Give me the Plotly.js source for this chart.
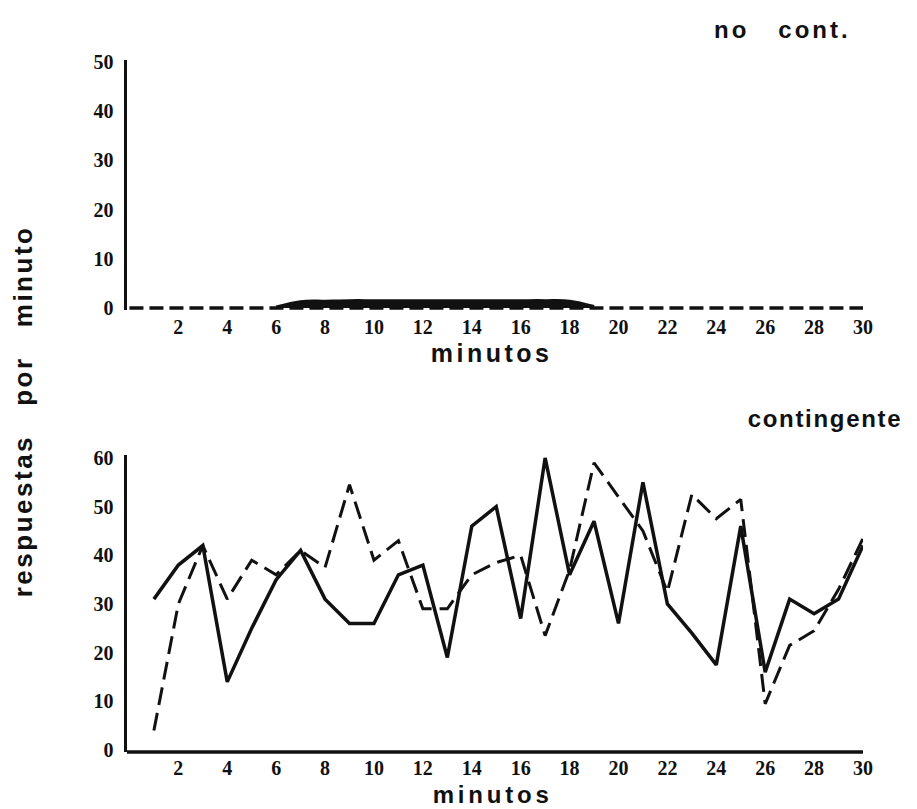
<!DOCTYPE html>
<html>
<head>
<meta charset="utf-8">
<script src="https://cdn.plot.ly/plotly-3.0.1.min.js"></script>
<style>
html,body{margin:0;padding:0;background:#fff;}
#chart{width:917px;height:809px;}
.annotation[data-index="0"] .annotation-text{letter-spacing:3px;}
.annotation[data-index="1"] .annotation-text{letter-spacing:1.7px;}
.annotation[data-index="2"] .annotation-text{letter-spacing:3.5px;}
.annotation[data-index="3"] .annotation-text{letter-spacing:3.8px;}
.annotation[data-index="4"] .annotation-text{letter-spacing:2.5px;}
</style>
</head>
<body>
<div id="chart"></div>
<script>
// ---- data ----
const minutes = [1,2,3,4,5,6,7,8,9,10,11,12,13,14,15,16,17,18,19,20,21,22,23,24,25,26,27,28,29,30];
const tickVals = [2,4,6,8,10,12,14,16,18,20,22,24,26,28,30];
const tickTextX = ['2','4','6','8','10','12','14','16','18','20','22','24','26','28','30'];
const topYTicks = [0,10,20,30,40,50];
const bottomYTicks = [0,10,20,30,40,50,60];

// "no cont." panel
const noContMinutes = [0,1,2,3,4,5,6,7,8,9,10,11,12,13,14,15,16,17,18,19,20,21,22,23,24,25,26,27,28,29,30];
const noContDashed  = [0,0,0,0,0,0,0,0,0,0,0,0,0,0,0,0,0,0,0,0,0,0,0,0,0,0,0,0,0,0,0];
const noContSolidMinutes = [6,7,8,9,10,11,12,13,14,15,16,17,18,19];
const noContSolid  = [0.2,1.3,1.4,1.5,1.5,1.5,1.5,1.5,1.5,1.5,1.5,1.5,1.4,0.3];

// "contingente" panel
const contSolid  = [31,38,42,14,25,35,41,31,26,26,36,38,19,46,50,27,60,36,47,26,55,30,24,17.5,46,16,31,28,31,42];
const contDashed = [4,30,42,31,39,36,41,37.5,54.5,39,43,29,29,36,38.5,40,23.5,37,59,52,45,32.5,52.5,47.5,51.5,9.5,21.5,24.5,33,43.5];

const tickFont = {family:'Liberation Serif', size:20, color:'#111', weight:'bold'};
const sans = 'Liberation Sans';

const traces = [
  {x:noContMinutes, y:noContDashed, xaxis:'x2', yaxis:'y2', mode:'lines',
   line:{color:'#111', width:3.5, dash:'14px,6px'}, cliponaxis:false, hoverinfo:'none'},
  {x:noContSolidMinutes, y:noContSolid, xaxis:'x2', yaxis:'y2', mode:'lines',
   line:{color:'#111', width:3, shape:'spline'}, fill:'tozeroy', fillcolor:'#111', cliponaxis:false, hoverinfo:'none'},
  {x:minutes, y:contSolid, xaxis:'x', yaxis:'y', mode:'lines',
   line:{color:'#111', width:3.5}, cliponaxis:false, hoverinfo:'none'},
  {x:minutes, y:contDashed, xaxis:'x', yaxis:'y', mode:'lines',
   line:{color:'#111', width:3, dash:'18px,8px'}, cliponaxis:false, hoverinfo:'none'}
];

const xDomain = [127/917, 863/917];
const layout = {
  width:917, height:809,
  margin:{l:0,r:0,t:0,b:0},
  paper_bgcolor:'#fff', plot_bgcolor:'#fff',
  showlegend:false,
  xaxis:{domain:xDomain, anchor:'y', range:[-0.1,30], tickvals:tickVals, ticktext:tickTextX,
         showgrid:false, zeroline:false, showline:false,
         ticks:'', tickfont:tickFont, ticklabelstandoff:2, fixedrange:true},
  yaxis:{domain:[57/809, 354/809], anchor:'x', range:[-0.4,60.6], tickvals:bottomYTicks,
         showgrid:false, zeroline:false, showline:true, linewidth:3.5, linecolor:'#111',
         ticks:'', tickfont:tickFont, ticklabelstandoff:6, fixedrange:true},
  xaxis2:{domain:xDomain, anchor:'y2', range:[-0.1,30], tickvals:tickVals, ticktext:tickTextX,
         showgrid:false, zeroline:false, showline:false,
         ticks:'', tickfont:tickFont, ticklabelstandoff:3, fixedrange:true},
  yaxis2:{domain:[499/809, 749/809], anchor:'x2', range:[-0.4,50.4], tickvals:topYTicks,
         showgrid:false, zeroline:false, showline:true, linewidth:3.5, linecolor:'#111',
         ticks:'', tickfont:tickFont, ticklabelstandoff:6, fixedrange:true},
  shapes:[
    {type:'line', xref:'x domain', yref:'y domain', x0:0, x1:1, y0:0, y1:0,
     line:{color:'#111', width:3.5}, layer:'above'}
  ],
  annotations:[
    {text:'<b>no\u00a0\u00a0\u00a0cont.</b>', xref:'paper', yref:'paper', x:782/917, y:1-30/809,
     showarrow:false, font:{family:sans, size:24, color:'#111'}, xanchor:'center', yanchor:'middle'},
    {text:'<b>contingente</b>', xref:'paper', yref:'paper', x:825/917, y:1-418/809,
     showarrow:false, font:{family:sans, size:24, color:'#111'}, xanchor:'center', yanchor:'middle'},
    {text:'<b>minutos</b>', xref:'paper', yref:'paper', x:491/917, y:1-353/809,
     showarrow:false, font:{family:sans, size:25, color:'#111'}, xanchor:'center', yanchor:'middle'},
    {text:'<b>minutos</b>', xref:'paper', yref:'paper', x:493/917, y:1-794/809,
     showarrow:false, font:{family:sans, size:24, color:'#111'}, xanchor:'center', yanchor:'middle'},
    {text:'<b>respuestas\u00a0\u00a0\u00a0por\u00a0\u00a0\u00a0minuto</b>', xref:'paper', yref:'paper',
     x:23/917, y:1-412/809, textangle:-90,
     showarrow:false, font:{family:sans, size:26, color:'#111'}, xanchor:'center', yanchor:'middle'}
  ]
};

Plotly.newPlot('chart', traces, layout, {staticPlot:true, displayModeBar:false});
</script>
</body>
</html>
